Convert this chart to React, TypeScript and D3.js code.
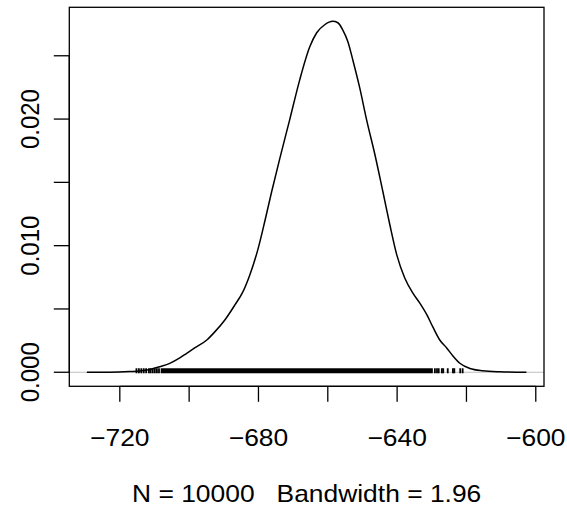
import React from 'react';
import * as d3 from 'd3';

// kernel density estimate (x value, density)
const densX = [
  -729.5, -722.9, -717.1, -714.2, -711.3, -708.5, -705.6, -702.7, -700.7, -698.4,
  -694.9, -692.6, -689.7, -686.8, -684.5, -682.5, -680.2, -678.2, -676.2, -673.8,
  -671.0, -668.1, -665.2, -663.2, -660.9, -658.6, -657.1, -655.7, -654.2, -652.8,
  -650.8, -648.8, -646.4, -644.1, -642.1, -640.1, -637.8, -635.5, -633.5, -631.4,
  -629.7, -627.7, -625.7, -623.9, -621.9, -619.0, -615.3, -610.4, -602.7,
];
const densY = [
  0, 0.00001, 0.00006, 0.0001, 0.00022, 0.00044, 0.0007, 0.00113, 0.0015, 0.00192,
  0.00255, 0.00319, 0.00413, 0.00532, 0.00635, 0.00769, 0.00967, 0.01189, 0.01426, 0.01694,
  0.01994, 0.0231, 0.02571, 0.02682, 0.02745, 0.02772, 0.02761, 0.02705, 0.02611, 0.02469,
  0.02248, 0.01994, 0.01718, 0.01426, 0.01165, 0.00927, 0.00745, 0.00627, 0.00548, 0.00453,
  0.00358, 0.00255, 0.00192, 0.00129, 0.00071, 0.0003, 0.00012, 0.00004, 0,
];

// rug: sparse tails drawn one by one, the solid middle as a span
const rugLeft = [-715.2, -714.5, -713.8, -713.1, -712.4, -711.6, -711.1, -710.5, -709.9, -709.3, -708.7];
const rugDense = [-708.2, -629.7];
const rugRight = [-629.1, -628.5, -628.0, -627.1, -626.7, -625.4, -623.9, -623.5, -621.8, -621.1];

const xTicks = [-720, -700, -680, -660, -640, -620, -600];
const xLabelled = [-720, -680, -640, -600];
const yTicks = [0, 0.005, 0.01, 0.015, 0.02, 0.025];
const yLabelled = [0, 0.01, 0.02];

const subTitle = 'N = 10000   Bandwidth = 1.96';

const W = 567;
const H = 511;
const PLOT = { left: 69.3, right: 544, top: 7.3, bottom: 386.3 };
const FONT = '"Liberation Sans", Arial, Helvetica, sans-serif';
const FS = 24;
const SX = 1.1; // the reference glyphs are a little wider than tall
const TICK = 15.5;

// R pads axis ranges by 4% on each side
const pad = (lo: number, hi: number): [number, number] => {
  const r = hi - lo;
  return [lo - 0.04 * r, hi + 0.04 * r];
};

export default function App() {
  const x = d3.scaleLinear()
    .domain(pad(d3.min(densX)!, d3.max(densX)!))
    .range([PLOT.left, PLOT.right]);
  const y = d3.scaleLinear()
    .domain(pad(0, d3.max(densY)!))
    .range([PLOT.bottom, PLOT.top]);

  const pts = densX.map((v, i) => [v, densY[i]] as [number, number]);
  const line = d3.line<[number, number]>()
    .x(d => x(d[0]))
    .y(d => y(d[1]))
    .curve(d3.curveMonotoneX);

  const fmtX = d3.format('d');
  const fmtY = d3.format('.3f');
  const y0 = y(0);
  const capH = FS * 0.716;

  return (
    <svg width={W} height={H} style={{ position: 'absolute', left: 0, top: 0, background: '#fff' }}
      fontFamily={FONT} fontSize={FS}>
      <rect width={W} height={H} fill="#fff" />

      {/* zero line */}
      <line x1={PLOT.left} x2={PLOT.right} y1={y0} y2={y0} stroke="#bebebe" strokeWidth={1} />

      {/* rug */}
      <g fill="#000">
        {[...rugLeft, ...rugRight].map((v, i) => (
          <rect key={i} x={x(v) - 0.9} y={y0 - 4} width={1.8} height={5} />
        ))}
        <rect x={x(rugDense[0])} y={y0 - 4} width={x(rugDense[1]) - x(rugDense[0])} height={5} />
      </g>

      {/* density curve */}
      <path d={line(pts) ?? undefined} fill="none" stroke="#000" strokeWidth={1.5} strokeLinejoin="round" />

      {/* box */}
      <rect x={PLOT.left} y={PLOT.top} width={PLOT.right - PLOT.left} height={PLOT.bottom - PLOT.top}
        fill="none" stroke="#000" strokeWidth={1.3} />

      {/* x axis */}
      <g stroke="#000" strokeWidth={1.3}>
        <line x1={x(xTicks[0])} x2={x(xTicks[xTicks.length - 1])} y1={PLOT.bottom} y2={PLOT.bottom} />
        {xTicks.map(t => (
          <line key={t} x1={x(t)} x2={x(t)} y1={PLOT.bottom} y2={PLOT.bottom + TICK} />
        ))}
      </g>
      {xLabelled.map(t => (
        <text key={t} transform={`translate(${x(t)},${437 + capH / 2}) scale(${SX},1)`} textAnchor="middle">
          {fmtX(t)}
        </text>
      ))}

      {/* y axis */}
      <g stroke="#000" strokeWidth={1.3}>
        <line x1={PLOT.left} x2={PLOT.left} y1={y(yTicks[0])} y2={y(yTicks[yTicks.length - 1])} />
        {yTicks.map(t => (
          <line key={t} x1={PLOT.left - TICK} x2={PLOT.left} y1={y(t)} y2={y(t)} />
        ))}
      </g>
      {yLabelled.map(t => (
        <text key={t} transform={`translate(${29.7 + (capH * SX) / 2},${y(t)}) scale(${SX},1) rotate(-90)`}
          textAnchor="middle">
          {fmtY(t)}
        </text>
      ))}

      <text transform={`translate(${(PLOT.left + PLOT.right) / 2},${493 + capH / 2}) scale(${SX},1)`}
        textAnchor="middle" style={{ whiteSpace: 'pre' }}>
        {subTitle}
      </text>
    </svg>
  );
}
